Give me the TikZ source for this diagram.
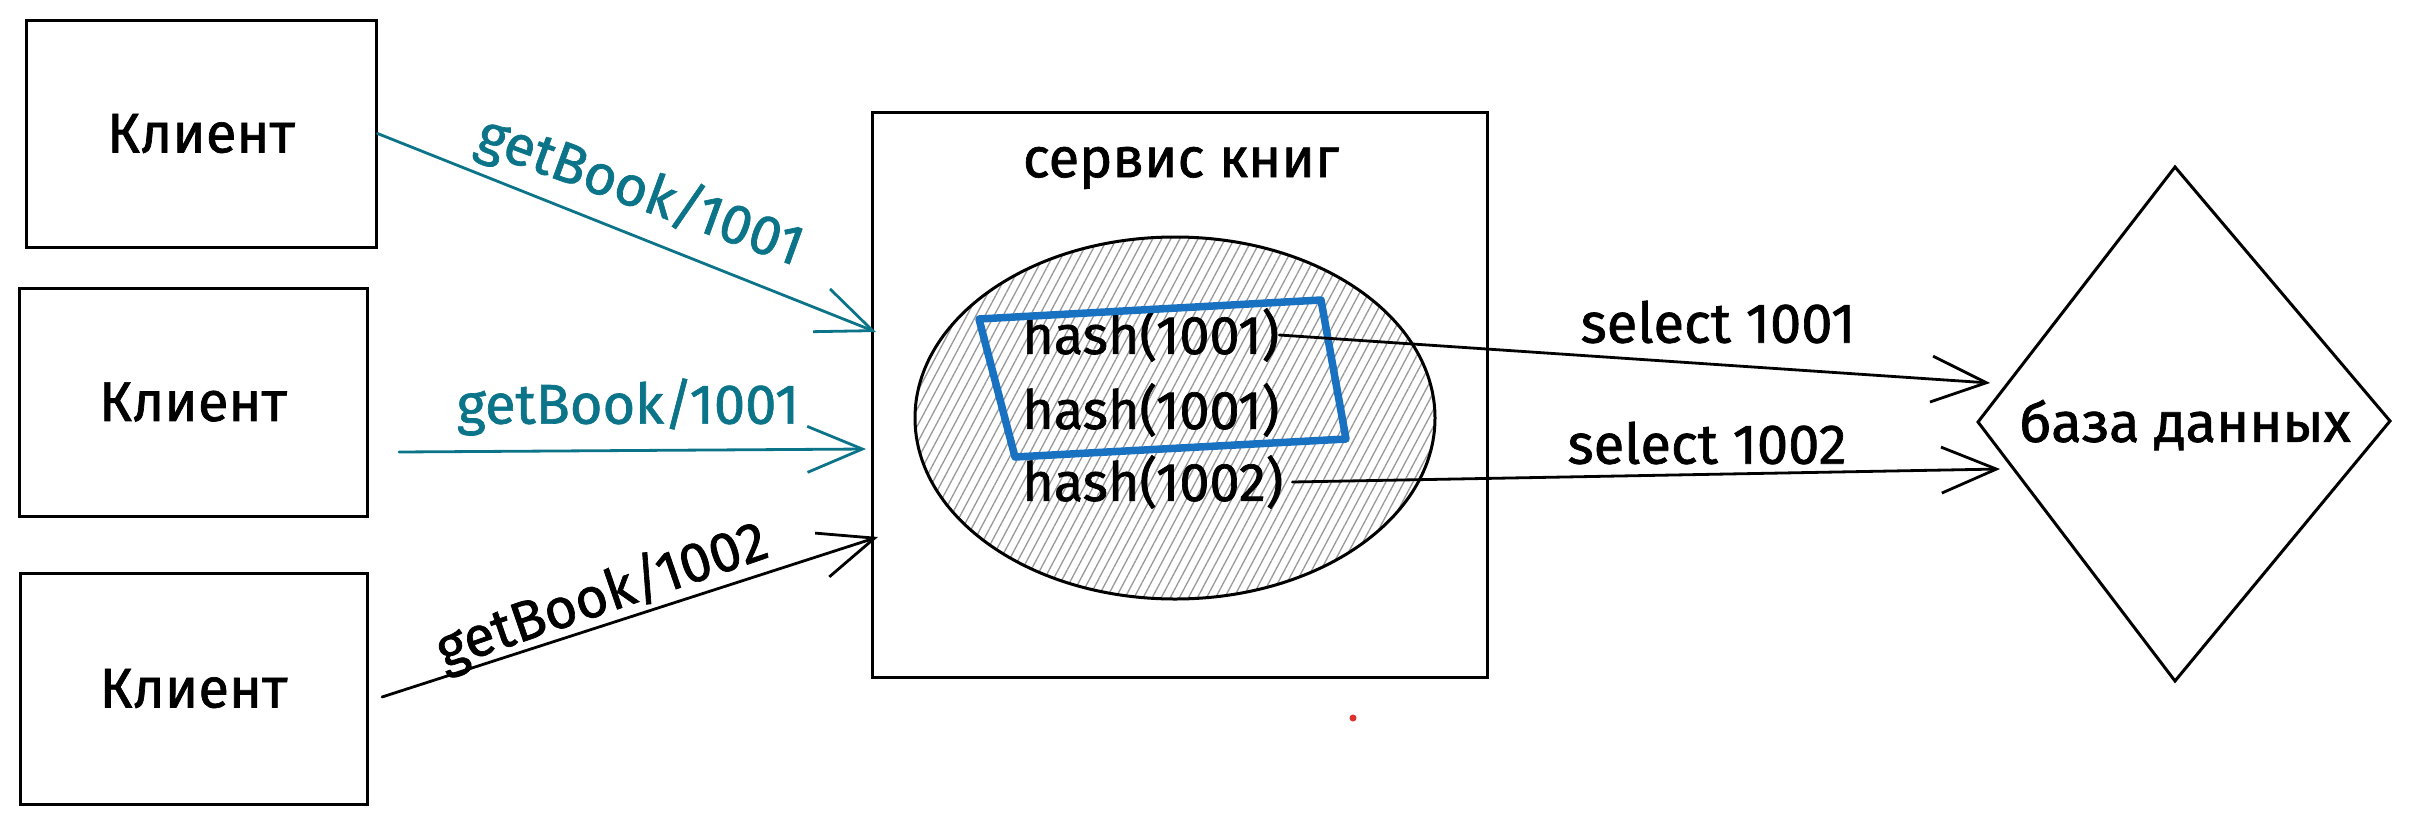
\documentclass[tikz,border=0pt]{standalone}
\usepackage{fontspec}
\setmainfont{Fira Sans}[FakeBold=1.2]
\usetikzlibrary{arrows.meta,patterns.meta,shapes.geometric}
\definecolor{tealx}{HTML}{0C7489}
\definecolor{bluex}{HTML}{1971C2}
\definecolor{redx}{HTML}{E03131}
\begin{document}
\begin{tikzpicture}[x=1pt,y=-1pt,
  box/.style={draw, line width=3pt},
  txt/.style={font=\fontsize{56}{60}\selectfont, inner sep=0pt},
  htxt/.style={font=\fontsize{54}{58}\selectfont, inner sep=0pt, anchor=west},
  conn/.style={line width=2.8pt, line cap=round, line join=round, -{Straight Barb[length=55pt,width=46pt]}},
]
\useasboundingbox (0,0) rectangle (2411,822);
\fill[white] (0,0) rectangle (2411,822);

% clients
\node[box, txt, minimum width=350pt, minimum height=227pt] (c1) at (201,133.5) {Клиент};
\node[box, txt, minimum width=348pt, minimum height=228pt] (c2) at (193,402) {Клиент};
\node[box, txt, minimum width=347pt, minimum height=231pt] (c3) at (193.5,688.5) {Клиент};

% service
\node[box, minimum width=615pt, minimum height=565pt] (svc) at (1179.5,394.5) {};
\node[txt] (svct) at (1181,168) {сервис книг};
\node[ellipse, draw, line width=3pt, minimum width=520pt, minimum height=362pt,
  pattern={Lines[angle=62, distance=8pt, line width=1.3pt]}, pattern color=gray!80] (ell) at (1175,418) {};

\node[htxt] (h1) at (1022,335) {hash(1001)};
\node[htxt] (h2) at (1022,410) {hash(1001)};
\node[htxt] (h3) at (1022,482) {hash(1002)};

\coordinate (q1) at (979,319);
\coordinate (q2) at (1321,300);
\coordinate (q3) at (1346,439);
\coordinate (q4) at (1015,457);
\draw[bluex, line width=7.5pt, line join=round] (q1) -- (q2) -- (q3) -- (q4) -- cycle;

% database diamond
\coordinate (dt) at (2175,167);
\coordinate (dr) at (2390,421);
\coordinate (dbm) at (2175,681);
\coordinate (dl) at (1978,422);
\draw[line width=3pt] (dt) -- (dr) -- (dbm) -- (dl) -- cycle;
\node[txt] (dbt) at (2185,425) {база данных};

% client arrows
\coordinate (a1) at (876,332);
\coordinate (s2) at (399,452);
\coordinate (a2) at (866,449);
\coordinate (s3) at (382,697);
\coordinate (a3) at (878,537);
\draw[conn, tealx] (c1.east) -- (a1);
\draw[conn, tealx] (s2) -- (a2);
\draw[conn] (s3) -- (a3);
\node[txt, tealx, rotate=-20] (l1) at (640,192) {getBook/1001};
\node[txt, tealx] (l2) at (628,407) {getBook/1001};
\node[txt, rotate=19] (l3) at (602,597) {getBook/1002};

% select arrows
\coordinate (t1) at (1990,383);
\coordinate (t2) at (2000,469);
\draw[conn] (h1.east) -- (t1);
\draw[conn] ([xshift=9pt]h3.east) -- (t2);
\node[txt] (sl1) at (1718,322) {select 1001};
\node[txt] (sl2) at (1707,443) {select 1002};

% red dot
\node[circle, fill=redx, inner sep=0pt, minimum size=7pt] (dot) at (1353,718) {};
\end{tikzpicture}
\end{document}
